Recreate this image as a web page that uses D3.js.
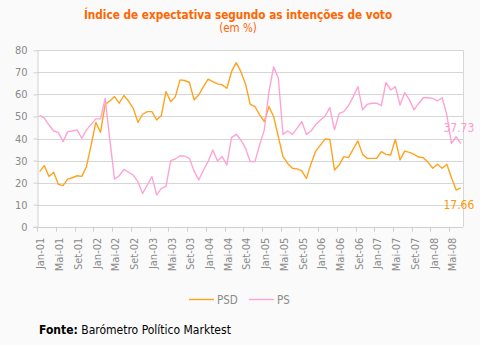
<!DOCTYPE html>
<html>
<head>
<meta charset="utf-8">
<script src="https://cdn.jsdelivr.net/npm/d3@7"></script>
<style>
  html, body { margin: 0; padding: 0; background: #fafafa; }
  svg { display: block; }
  text { font-family: "DejaVu Sans Condensed", "Liberation Sans", sans-serif; }
</style>
</head>
<body>
<svg id="chart" width="480" height="345"></svg>
<script>
// Month abbreviations and years covered by the barometer (Jan-01 .. Jul-08)
const monthNames = ["Jan", "Fev", "Mar", "Abr", "Mai", "Jun", "Jul", "Ago", "Set", "Out", "Nov", "Dez"];
const years = ["01", "02", "03", "04", "05", "06", "07", "08"];
const lastMonthCount = 7; // 2008 runs to July
const categories = years.flatMap((y, yi) =>
  monthNames.slice(0, yi === years.length - 1 ? lastMonthCount : 12).map(m => `${m}-${y}`));

// Expectation index by voting intention (%)
const psd = [
  25.0, 27.7, 22.8, 24.7, 19.2, 18.6, 21.6, 22.2, 23.1, 22.8, 27.2, 37.0,
  47.3, 42.8, 55.5, 57.0, 59.0, 56.0, 59.5, 57.0, 53.7, 47.3, 51.0, 52.2,
  52.2, 48.4, 50.4, 61.3, 56.7, 59.0, 66.6, 66.3, 65.4, 57.5, 59.8, 63.5,
  66.9, 65.8, 64.8, 64.3, 62.8, 70.3, 74.4, 70.3, 64.6, 55.5, 54.5, 50.7,
  47.7, 54.5, 49.9, 40.8, 31.8, 28.7, 26.5, 26.2, 25.3, 21.9, 28.7, 34.3,
  37.0, 39.8, 39.6, 25.7, 28.0, 31.8, 31.3, 35.2, 38.9, 32.8, 31.0, 31.0,
  31.0, 34.0, 32.8, 32.5, 39.6, 30.3, 34.3, 33.7, 32.8, 31.6, 31.3, 29.2,
  26.5, 28.3, 26.5, 28.3, 22.2, 16.6, 17.66
];
const ps = [
  50.5, 49.2, 46.1, 43.4, 42.8, 38.6, 43.1, 43.4, 43.9, 40.1, 43.9, 46.4,
  48.9, 48.9, 58.2, 39.5, 21.6, 23.1, 26.0, 24.7, 23.4, 20.4, 15.1, 18.9,
  22.7, 14.4, 17.4, 18.3, 30.0, 30.7, 32.2, 32.0, 31.0, 25.3, 21.2, 25.7,
  29.5, 34.8, 29.8, 31.8, 28.0, 40.4, 41.9, 39.3, 35.6, 29.5, 29.5, 37.0,
  43.9, 61.3, 72.6, 67.3, 41.9, 43.4, 41.9, 44.6, 47.7, 41.9, 43.4, 46.4,
  48.4, 50.2, 54.0, 43.9, 51.4, 52.2, 54.9, 59.0, 63.5, 53.0, 55.5, 56.0,
  56.0, 54.9, 65.4, 62.0, 63.5, 55.2, 60.8, 57.5, 53.0, 56.0, 58.5, 58.5,
  58.2, 57.0, 58.5, 50.7, 37.8, 40.8, 37.73
];
const yTicks = [0, 10, 20, 30, 40, 50, 60, 70, 80];
const labelEvery = 4;

const series = [
  { name: "PSD", values: psd, color: "#FFA31F", labelColor: "#FF9900", labelBelow: true },
  { name: "PS",  values: ps,  color: "#FFA3D4", labelColor: "#FF99CC", labelBelow: false }
];

const svg = d3.select("#chart");
const plot = { left: 37.3, right: 463.2, top: 50.3, bottom: 226.7 };

const x = d3.scaleBand().domain(categories).range([plot.left, plot.right]).padding(0);
const y = d3.scaleLinear().domain([0, 80]).range([plot.bottom, plot.top]);
const cx = c => x(c) + x.bandwidth() / 2;

// Plot background
svg.append("rect")
  .attr("x", plot.left).attr("y", plot.top)
  .attr("width", plot.right - plot.left).attr("height", plot.bottom - plot.top)
  .attr("fill", "#ffffff");

// Horizontal gridlines
svg.append("g").selectAll("line").data(yTicks.filter(t => t > 0)).join("line")
  .attr("x1", plot.left).attr("x2", plot.right)
  .attr("y1", d => Math.round(y(d)) + 0.5).attr("y2", d => Math.round(y(d)) + 0.5)
  .attr("stroke", "#d6d6d6").attr("stroke-width", 1);

// Right border
svg.append("line")
  .attr("x1", Math.round(plot.right) + 0.5).attr("x2", Math.round(plot.right) + 0.5)
  .attr("y1", plot.top).attr("y2", plot.bottom)
  .attr("stroke", "#d6d6d6");

// Y axis
const yAxis = svg.append("g")
  .attr("transform", `translate(${Math.round(plot.left) + 0.5},0)`)
  .call(d3.axisLeft(y).tickValues(yTicks).tickSize(4).tickSizeOuter(0).tickPadding(6));
yAxis.select(".domain").attr("stroke", "#d0d0d0");
yAxis.selectAll(".tick line").attr("stroke", "#d0d0d0");
yAxis.selectAll(".tick text")
  .attr("fill", "#8a8a8a").attr("font-size", 11)
  .style("font-family", "'DejaVu Sans Condensed', 'Liberation Sans', sans-serif");

// X axis line with tick marks on the category boundaries
const xg = svg.append("g");
xg.append("line")
  .attr("x1", plot.left - 4).attr("x2", plot.right)
  .attr("y1", Math.round(plot.bottom) + 0.5).attr("y2", Math.round(plot.bottom) + 0.5)
  .attr("stroke", "#d0d0d0");
const tickCats = categories.filter((c, i) => i % labelEvery === 0);
xg.selectAll("line.tk").data(tickCats).join("line").attr("class", "tk")
  .attr("x1", d => Math.round(x(d)) + 0.5).attr("x2", d => Math.round(x(d)) + 0.5)
  .attr("y1", plot.bottom).attr("y2", plot.bottom + 5)
  .attr("stroke", "#d0d0d0");
xg.selectAll("text").data(tickCats).join("text")
  .attr("transform", d => `translate(${cx(d) + 1},${plot.bottom + 11}) rotate(-90)`)
  .attr("text-anchor", "end")
  .attr("dy", "0.35em")
  .attr("font-size", 11)
  .attr("fill", "#8a8a8a")
  .text(d => d);

// Series lines
const line = d3.line().x((d, i) => cx(categories[i])).y(d => y(d));
series.forEach(s => {
  svg.append("path")
    .datum(s.values)
    .attr("fill", "none")
    .attr("stroke", s.color)
    .attr("stroke-width", 1.4)
    .attr("stroke-linejoin", "round")
    .attr("d", line);
});

// Latest value labels
series.forEach(s => {
  const n = s.values.length - 1;
  const v = s.values[n];
  svg.append("text")
    .attr("x", cx(categories[n]) - 2)
    .attr("y", y(v) + (s.labelBelow ? 21 : -11.5))
    .attr("text-anchor", "middle")
    .attr("font-size", 12)
    .attr("fill", s.labelColor)
    .text(d3.format(".2f")(v));
});

// Title
svg.append("text")
  .attr("x", 238).attr("y", 19)
  .attr("text-anchor", "middle")
  .attr("font-size", 11.7).attr("font-weight", "bold")
  .attr("fill", "#FF6600")
  .text("Índice de expectativa segundo as intenções de voto");
svg.append("text")
  .attr("x", 238).attr("y", 32)
  .attr("text-anchor", "middle")
  .attr("font-size", 11.5)
  .attr("fill", "#FF6600")
  .text("(em %)");

// Legend
const legend = svg.append("g");
const legendItems = [
  { s: series[0], x: 189 },
  { s: series[1], x: 249 }
];
legendItems.forEach(({ s, x: lx }) => {
  legend.append("line")
    .attr("x1", lx).attr("x2", lx + 25)
    .attr("y1", 299.5).attr("y2", 299.5)
    .attr("stroke", s.color).attr("stroke-width", 1.4);
  legend.append("text")
    .attr("x", lx + 28).attr("y", 303.5)
    .attr("font-size", 11.5)
    .attr("fill", "#8a8a8a")
    .text(s.name);
});

// Source note
const src = svg.append("text").attr("x", 39).attr("y", 334).attr("font-size", 12).attr("fill", "#000");
src.append("tspan").attr("font-weight", "bold").text("Fonte:");
src.append("tspan").text(" Barómetro Político Marktest");
</script>
</body>
</html>
